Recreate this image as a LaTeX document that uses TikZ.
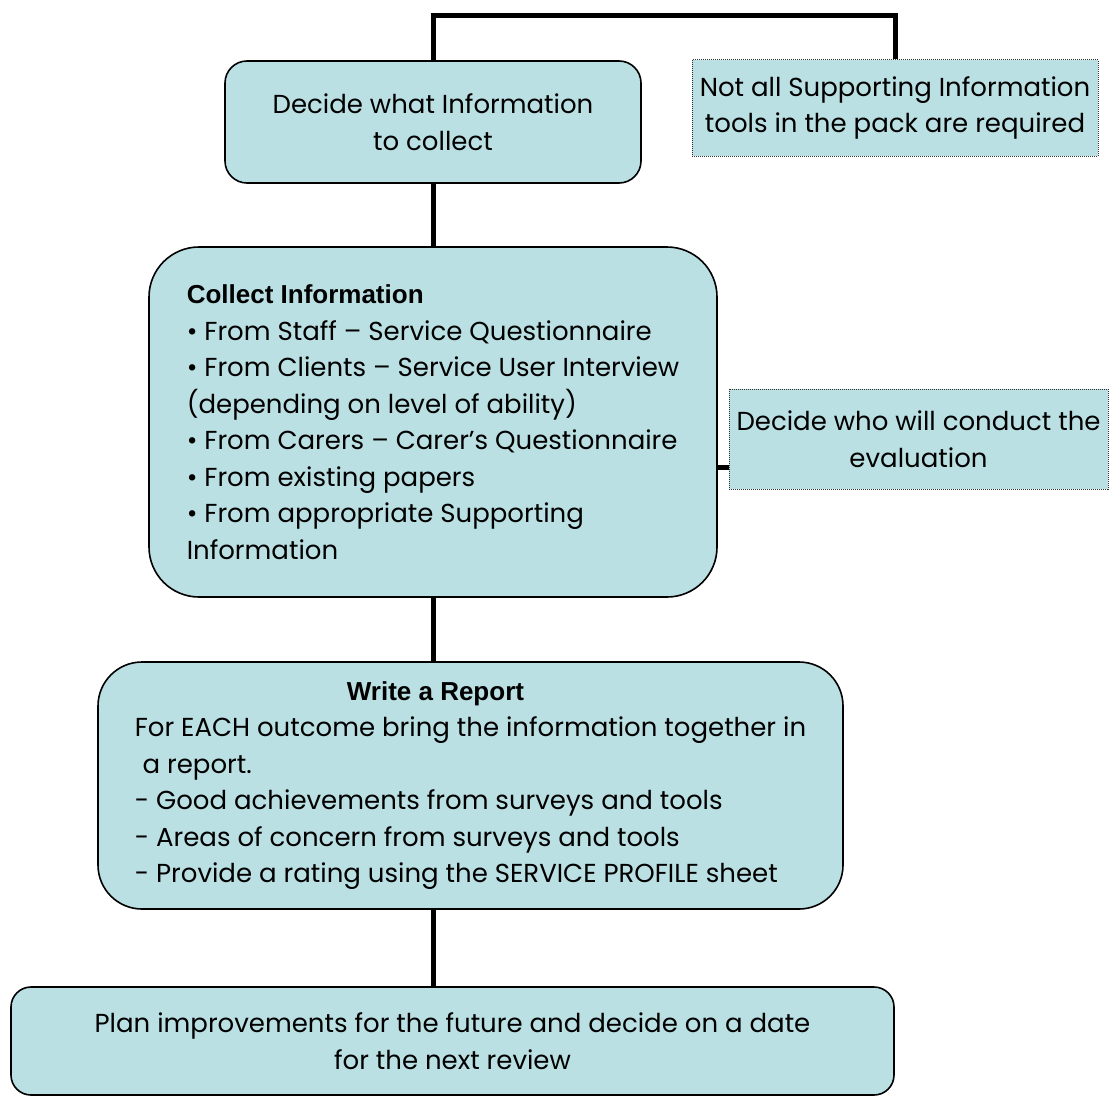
\documentclass[tikz,border=0pt]{standalone}
\usepackage{fontspec}
\setmainfont{Poppins}
\newfontfamily\headfont{Liberation Sans}
\usepackage{tikz}
\usetikzlibrary{positioning}
\definecolor{boxfill}{RGB}{186,224,227}
\newcommand{\boxhead}[1]{{\headfont\bfseries #1}}
\tikzset{
  stagebox/.style={
    draw=black,fill=boxfill,line width=0.8pt,inner sep=0pt,
    font=\fontsize{13}{18.25}\selectfont,
  },
  notebox/.style={
    draw=black!80,fill=boxfill,line width=0.5pt,dash pattern=on 0.5pt off 0.5pt,
    inner sep=0pt,align=center,font=\fontsize{13}{18.25}\selectfont,
  },
  link/.style={line width=2.5pt},
}

\begin{document}
\begin{tikzpicture}[x=0.5pt,y=-0.5pt]
      \useasboundingbox (0,0) rectangle (1112,1097);
      \node[stagebox,rounded corners=11pt,minimum width=208pt,minimum height=61pt,align=center] (decide) at (433,122)
        {Decide what Information\\to collect};
      \node[notebox,minimum width=203pt,minimum height=48pt] (notall) at (895,108)
        {Not all Supporting Information\\ tools in the pack are required};
      \node[stagebox,rounded corners=25pt,minimum width=284pt,minimum height=175pt,align=left] (collect) at (433,422)
        {\boxhead{Collect Information}\\
         • From Staff – Service Questionnaire\\
         • From Clients – Service User Interview\\
         (depending on level of ability)\\
         • From Carers – Carer’s Questionnaire\\
         • From existing papers\\
         • From appropriate Supporting\\
         Information};
      \node[notebox,minimum width=189.5pt,minimum height=50pt] (who) at (918.5,439)
        {Decide who will conduct the\\evaluation};
      \node[stagebox,rounded corners=22pt,minimum width=372.5pt,minimum height=123.5pt,align=left] (report) at (470.5,785.5)
        {\hspace*{106pt}\boxhead{Write a Report}\\
         For EACH outcome bring the information together in\\
         \hspace*{0.3em}a report.\\
         - Good achievements from surveys and tools\\
         - Areas of concern from surveys and tools\\
         - Provide a rating using the SERVICE PROFILE sheet};
      \node[stagebox,rounded corners=10pt,minimum width=441.5pt,minimum height=54pt,align=center] (plan) at (452.5,1041)
        {Plan improvements for the future and decide on a date\\for the next review};

      \coordinate (top) at (433,16);
      \coordinate (stub) at (717,467);
      \draw[link] (decide.north) -- (top) -| (notall.north);
      \draw[link] (decide.south) -- (collect.north);
      \draw[link] (stub) -- (stub -| who.west);
      \draw[link] (collect.south) -- (collect.south |- report.north);
      \draw[link] (collect.south |- report.south) -- (collect.south |- plan.north);
\end{tikzpicture}
\end{document}
